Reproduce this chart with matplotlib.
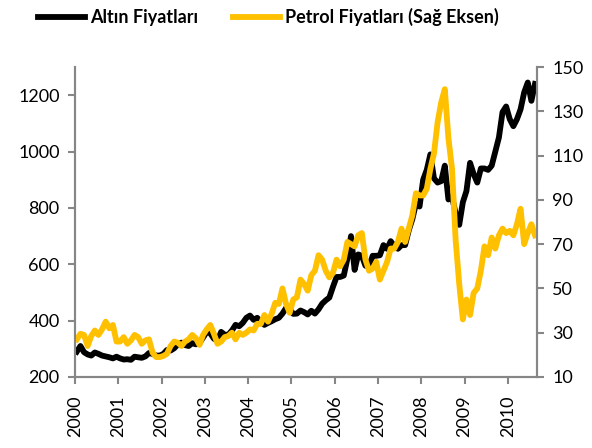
import matplotlib

matplotlib.use('Agg')
import matplotlib.pyplot as plt
import numpy as np

plt.rcParams['font.family'] = ['Lato', 'DejaVu Sans']

# monthly values, Jan 2000 .. Aug 2010
gold = [
    290, 310, 288, 280, 276, 287, 282, 276, 273, 270, 266, 272,   # 2000
    266, 262, 263, 261, 272, 270, 268, 273, 285, 282, 276, 276,   # 2001
    282, 296, 294, 302, 316, 322, 313, 310, 320, 316, 320, 340,   # 2002
    360, 355, 336, 328, 360, 350, 350, 365, 385, 380, 392, 410,   # 2003
    418, 403, 410, 395, 385, 392, 398, 405, 410, 425, 445, 440,   # 2004
    424, 425, 436, 430, 422, 435, 425, 440, 460, 472, 482, 520,   # 2005
    555, 555, 560, 620, 700, 580, 635, 630, 595, 590, 630, 630,   # 2006
    632, 668, 655, 682, 665, 655, 668, 668, 720, 760, 815, 805,   # 2007
    900, 935, 990, 905, 890, 895, 950, 830, 840, 780, 740, 820,   # 2008
    860, 960, 920, 890, 940, 940, 935, 950, 1000, 1050, 1140, 1160,  # 2009
    1115, 1090, 1115, 1150, 1210, 1245, 1180, 1240,               # 2010
]
oil = [
    27, 29.5, 29, 24, 28.5, 31, 29, 31.5, 35, 32, 33.5, 26,       # 2000
    26, 28, 25, 26.5, 29, 28, 25, 26.5, 27, 21, 19, 19,           # 2001
    19.5, 20.5, 24, 26, 25.5, 24, 26, 27, 29, 27.5, 24.5, 29,     # 2002
    31.5, 33.5, 29.5, 25, 26, 28, 28.5, 30, 27, 30, 29, 30,       # 2003
    31.5, 31, 34, 34, 38, 35, 38.5, 43.5, 43, 50, 43, 39,         # 2004
    45, 46, 54, 52, 49, 56, 58, 65, 63, 58, 55, 57,               # 2005
    63, 60, 63, 71, 70, 69, 74, 75, 63, 58, 59, 62,               # 2006
    54, 58, 62, 68, 68, 71, 77, 71, 77, 83, 93, 92,               # 2007
    92, 95, 104, 111, 125, 134, 140, 118, 104, 72, 52, 36,        # 2008
    45, 38, 48, 50, 58, 69, 65, 73, 68, 74, 77, 75,               # 2009
    76, 74, 79, 86, 70, 75, 79, 74,                               # 2010
]
years = list(range(2000, 2011))
gold_ticks = [200, 400, 600, 800, 1000, 1200]
oil_ticks = [10, 30, 50, 70, 90, 110, 130, 150]

t = 2000 + (np.arange(len(gold)) + 0.5) / 12.0

GRAY = '#868686'
ORANGE = '#FFC000'

fig = plt.figure(figsize=(5.92, 4.48), dpi=100)
ax = fig.add_axes([0.1267, 0.1585, 0.7803, 0.6919])
ax2 = ax.twinx()

l1, = ax.plot(t, gold, color='black', lw=4.2, solid_joinstyle='round', label='Altın Fiyatları')
l2, = ax2.plot(t, oil, color=ORANGE, lw=4.2, solid_joinstyle='round', label='Petrol Fiyatları (Sağ Eksen)')

ax.set_xlim(2000, 2010.67)
ax.set_ylim(200, 1300)
ax2.set_ylim(10, 150)
ax.set_xticks(years)
ax.set_xticklabels([str(y) for y in years], rotation=90)
ax.set_yticks(gold_ticks)
ax2.set_yticks(oil_ticks)

for a in (ax, ax2):
    a.spines['top'].set_visible(False)
    for s in ('left', 'right', 'bottom'):
        a.spines[s].set_color(GRAY)
        a.spines[s].set_linewidth(1.5)
    a.tick_params(colors=GRAY, labelcolor='black', labelsize=13, width=1.5, length=5, direction='out')
ax.tick_params(axis='x', pad=8)
ax.tick_params(axis='y', pad=6)
ax2.tick_params(axis='y', pad=6)

fig.legend(handles=[l1, l2], loc='center', bbox_to_anchor=(0.4535, 0.962), ncol=2, frameon=False,
           prop={'weight': 'bold', 'size': 13}, handlelength=2.6, handletextpad=0.3, columnspacing=1.9)

plt.savefig('out.png', dpi=100)
